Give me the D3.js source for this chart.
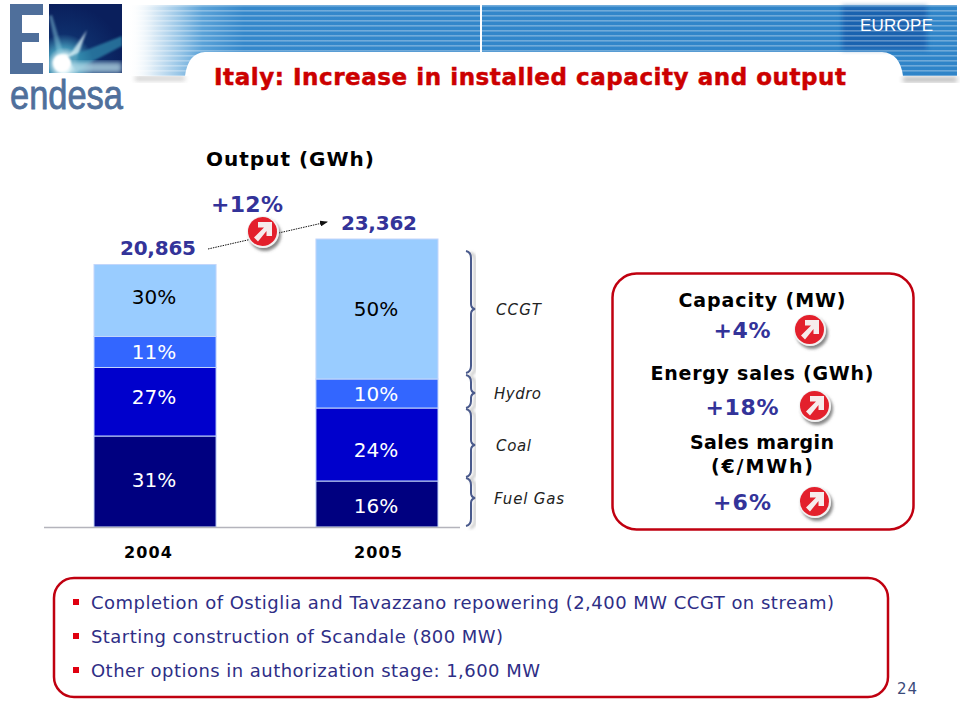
<!DOCTYPE html>
<html><head><meta charset="utf-8">
<script src="https://cdn.jsdelivr.net/npm/d3@7"></script>
<style>html,body{margin:0;padding:0;background:#fff}svg{display:block}text{font-family:"DejaVu Sans",Verdana,sans-serif}</style>
</head><body><svg id="c" width="960" height="720"></svg>
<script>
const years = ["2004","2005"];
const totals = [20865,23362];
const fuels = ["Fuel Gas","Coal","Hydro","CCGT"];
const fuelColors = ["#000080","#0000cc","#3366ff","#99ccff"];
const labelColors = ["#fff","#fff","#fff","#000"];
// Segment sizes, in GWh (bottom to top)
const output2004 = [7382,5557,2515,5841];
const output2005 = [3731,5922,2353,11356];
const share2004 = ["31%","27%","11%","30%"];
const share2005 = ["16%","24%","10%","50%"];
const kpiTitles = [["Capacity (MW)"],["Energy sales (GWh)"],["Sales margin","(€/MWh)"]];
const kpiValues = ["+4%","+18%","+6%"];
const bullets = ["Completion of Ostiglia and Tavazzano repowering (2,400 MW CCGT on stream)","Starting construction of Scandale (800 MW)","Other options in authorization stage: 1,600 MW"];

const svg = d3.select("#c");
const defs = svg.append("defs");
const NAVY="#333399", RED="#c00010";

// text helper: centred or left text stretched to the width seen in the reference
function label(x,y,str,o){
  const s=svg.append("text").attr("x",x).attr("y",y).attr("fill",o.fill||"#000").attr("font-size",o.size)
    .attr("text-anchor",o.anchor||"middle").attr("font-weight",o.bold?"bold":"normal").attr("font-style",o.italic?"italic":"normal").text(str);
  if(o.w) s.attr("textLength",o.w).attr("lengthAdjust","spacing");
  if(o.heavy) s.attr("stroke",o.fill||"#000").attr("stroke-width",o.heavy);
  return s;
}

// ---- defs
const bg = defs.append("linearGradient").attr("id","bannerFade").attr("gradientUnits","userSpaceOnUse").attr("x1",128).attr("x2",956).attr("y1",0).attr("y2",0);
[[0,"#ffffff",0],[0.03,"#dcebf6",1],[0.06,"#9cc8e8",1],[0.09,"#5aa2d8",1],[0.14,"#3588cb",1],[1,"#2f84c8",1]].forEach(d=>bg.append("stop").attr("offset",d[0]).attr("stop-color",d[1]).attr("stop-opacity",d[2]));
const st = defs.append("pattern").attr("id","stripes").attr("patternUnits","userSpaceOnUse").attr("width",10).attr("height",5).attr("y",5);
st.append("rect").attr("width",10).attr("height",1.6).attr("fill","#fff").attr("opacity",.3);
const sq = defs.append("radialGradient").attr("id","flare").attr("gradientUnits","userSpaceOnUse").attr("cx",64).attr("cy",64).attr("r",60);
[[0,"#ffffff"],[0.14,"#dff3f8"],[0.28,"#3f8fb2"],[0.5,"#0e2f6c"],[1,"#0a1f5c"]].forEach(d=>sq.append("stop").attr("offset",d[0]).attr("stop-color",d[1]));
defs.append("clipPath").attr("id","sqClip").append("rect").attr("x",49).attr("y",4).attr("width",73).attr("height",69);
const b3 = defs.append("filter").attr("id","blur3"); b3.append("feGaussianBlur").attr("stdDeviation",2.5);
const b1 = defs.append("filter").attr("id","blur1"); b1.append("feGaussianBlur").attr("stdDeviation",1.2);
const sh = defs.append("filter").attr("id","btnShadow").attr("x","-30%").attr("y","-30%").attr("width","170%").attr("height","170%");
sh.append("feDropShadow").attr("dx",2).attr("dy",3).attr("stdDeviation",1.8).attr("flood-color","#555").attr("flood-opacity",.7);
const bs = defs.append("filter").attr("id","braceShadow");
bs.append("feDropShadow").attr("dx",4).attr("dy",2).attr("stdDeviation",1.6).attr("flood-color","#999").attr("flood-opacity",.7);
const mk = defs.append("marker").attr("id","arrow").attr("viewBox","0 0 8 6").attr("refX",7).attr("refY",3).attr("markerWidth",8).attr("markerHeight",6).attr("orient","auto").attr("markerUnits","userSpaceOnUse");
mk.append("path").attr("d","M0,0L8,3L0,6Z").attr("fill","#111");

// ---- banner
const bannerPath = "M128,5H957V76H903Q900,53 882,52H205Q188,53 185,76H128Z";
svg.append("path").attr("d","M135,77H185V80H135Z M903,77H957V82H903Z").attr("fill","#777").attr("filter","url(#blur3)").attr("opacity",.55);
svg.append("path").attr("d","M205,53H882").attr("stroke","#555").attr("stroke-width",2.5).attr("filter","url(#blur1)").attr("opacity",.7);
svg.append("path").attr("d",bannerPath).attr("fill","url(#bannerFade)");
svg.append("rect").attr("x",842).attr("y",6).attr("width",85).attr("height",44).attr("fill","#0f4ea0").attr("opacity",.6).attr("filter","url(#blur3)");
svg.append("rect").attr("x",480).attr("y",3).attr("width",2).attr("height",50).attr("fill","#fff");
svg.append("path").attr("d",bannerPath).attr("fill","url(#stripes)");
label(896.5,31,"EUROPE",{fill:"#fff",size:17,w:73}).style("font-family","Liberation Sans");

// ---- logo
const logo = svg.append("g");
logo.append("path").attr("d","M10,4H43V15H22V33H39V42H22V63H43V74H10Z").attr("fill","#4f6f9b");
const sqG = logo.append("g").attr("clip-path","url(#sqClip)");
sqG.append("rect").attr("x",49).attr("y",4).attr("width",73).attr("height",69).attr("fill","url(#flare)");
sqG.append("path").attr("d","M62,66L87,30L74,66Z").attr("fill","#d8f0f6").attr("opacity",.8).attr("filter","url(#blur1)");
sqG.append("path").attr("d","M66,58L122,36L122,46L76,70Z").attr("fill","#2f86aa").attr("opacity",.75).attr("filter","url(#blur1)");
sqG.append("path").attr("d","M60,66L49,16L52,15L66,62Z").attr("fill","#8fd0e2").attr("opacity",.45).attr("filter","url(#blur1)");
sqG.append("path").attr("d","M66,62L122,62L122,73L72,73Z").attr("fill","#bfe3ee").attr("opacity",.75).attr("filter","url(#blur3)");
sqG.append("circle").attr("cx",62).attr("cy",63).attr("r",9).attr("fill","#fff").attr("filter","url(#blur1)");
logo.append("text").attr("x",10).attr("y",109).attr("fill","#4f6f9b").attr("stroke","#4f6f9b").attr("stroke-width",.8).style("font-family","Liberation Sans").attr("font-size",40).attr("textLength",113).attr("lengthAdjust","spacingAndGlyphs").text("endesa");

// ---- title
label(530,85,"Italy: Increase in installed capacity and output",{fill:"#cc0000",bold:true,size:23,w:632,heavy:.5});
label(290,166,"Output (GWh)",{bold:true,size:20,w:168});

// ---- chart
const x = d3.scaleBand().domain(years).range([94,438]).paddingInner(0.45).paddingOuter(0);
const y = d3.scaleLinear().domain([0,totals[1]]).range([527,239]);
const rows = [output2004,output2005], shares=[share2004,share2005];
const labelNudge = [[-1,-5,0,-3],[2,5,1,0]];
const totalPos = [[158,255],[379,230]], yearPos=[148,378];
years.forEach((yr,i)=>{
  const stack = d3.cumsum(rows[i]);
  rows[i].forEach((v,j)=>{
    const y0=y(j?stack[j-1]:0), y1=y(stack[j]);
    svg.append("rect").attr("x",x(yr)).attr("y",y1).attr("width",x.bandwidth()).attr("height",y0-y1)
      .attr("fill",fuelColors[j]).attr("stroke","#c3d6fb").attr("stroke-width",1);
    label(x(yr)+x.bandwidth()/2-1,(y0+y1)/2+7+labelNudge[i][j],shares[i][j],{fill:labelColors[j],size:20});
  });
  label(totalPos[i][0],totalPos[i][1],d3.format(",")(totals[i]),{fill:NAVY,bold:true,size:20,w:76});
  label(yearPos[i],558,yr,{bold:true,size:16,w:48});
});
svg.append("line").attr("x1",44).attr("x2",460).attr("y1",527.5).attr("y2",527.5).attr("stroke","#b4b4bc").attr("stroke-width",1.5);

// growth arrow
svg.append("line").attr("x1",208).attr("y1",249).attr("x2",327).attr("y2",222).attr("stroke","#111").attr("stroke-width",1).attr("stroke-dasharray","1.5 1").attr("marker-end","url(#arrow)");
label(247,212,"+12%",{fill:NAVY,bold:true,size:22,w:72});
function button(cx,cy){
  const g=svg.append("g").attr("transform",`translate(${cx},${cy})`);
  g.append("circle").attr("r",16).attr("fill","#f2f2f2").attr("filter","url(#btnShadow)");
  g.append("circle").attr("cx",-.5).attr("cy",-.5).attr("r",14.5).attr("fill","#e3202c");
  g.append("path").attr("d","M-9,5.5L1,-4.5L-5,-4.5L-5,-10L9,-10L9,4L3.5,4L3.5,-1L-5,9.5Z").attr("fill","#f6ecec");
}
button(263,232);

// braces
function brace(x0,top,tip,bot){
  const s=x0+5;
  return `M${x0},${top}Q${s},${top+1} ${s},${top+7}V${tip-5}Q${s},${tip-1} ${s+4},${tip}Q${s},${tip+1} ${s},${tip+5}V${bot-7}Q${s},${bot-1} ${x0},${bot}`;
}
const braceSpans = [[478,498,526,"Fuel Gas",504,494,70],[409,445,477,"Coal",451,496,35],[375,393,408,"Hydro",399,494,47],[251,309,373,"CCGT",315,496,45]];
braceSpans.forEach(b=>{
  svg.append("path").attr("d",brace(466,b[0],b[1],b[2])).attr("fill","none").attr("stroke","#4a5a8c").attr("stroke-width",2).attr("filter","url(#braceShadow)");
  label(b[5],b[4],b[3],{fill:"#222",italic:true,size:15,anchor:"start",w:b[6]});
});

// ---- KPI box
svg.append("rect").attr("x",612.5).attr("y",273.5).attr("width",301).attr("height",256).attr("rx",24).attr("fill","#fff").attr("stroke",RED).attr("stroke-width",2.5);
const kpiTitleY=[[307],[380],[449,473]], kpiTitleW=[[167],[223],[144,102]], kpiValY=[338,415,510], kpiValW=[57,73,58], kpiBtnX=[810,815,815], kpiBtnY=[330,406,502];
kpiTitles.forEach((t,i)=>{
  t.forEach((s,k)=>label(762,kpiTitleY[i][k],s,{bold:true,size:19,w:kpiTitleW[i][k]}));
  label(742,kpiValY[i],kpiValues[i],{fill:NAVY,bold:true,size:22,w:kpiValW[i]});
  button(kpiBtnX[i],kpiBtnY[i]);
});

// ---- bottom box
svg.append("rect").attr("x",54).attr("y",578).attr("width",834).attr("height",119).attr("rx",20).attr("fill","#fff").attr("stroke",RED).attr("stroke-width",2.5);
const bulletW=[743,412,449];
bullets.forEach((b,i)=>{
  const yy=[602,636,670][i];
  svg.append("rect").attr("x",73).attr("y",yy-3).attr("width",6).attr("height",6).attr("fill","#e00010");
  label(91,yy+7,b,{fill:"#2e2e86",size:18,anchor:"start",w:bulletW[i]});
});
label(917,694,"24",{fill:"#3a4a7a",size:15,anchor:"end",w:20});
</script></body></html>
